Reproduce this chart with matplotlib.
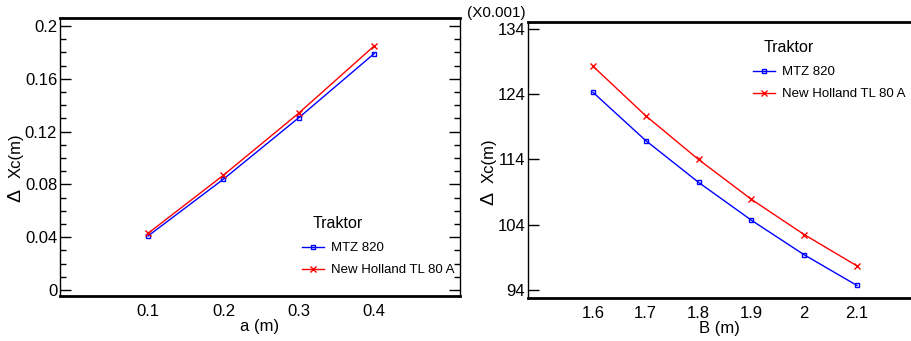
import matplotlib
matplotlib.use("Agg")
import matplotlib.pyplot as plt
from matplotlib.ticker import AutoMinorLocator

plt.rcParams['font.family'] = ['Liberation Sans', 'DejaVu Sans']

# left chart: displacement vs a
a_vals = [0.1, 0.2, 0.3, 0.4]
mtz_a = [0.041, 0.084, 0.1305, 0.179]
nh_a = [0.043, 0.087, 0.134, 0.1848]

# right chart: displacement vs B (x 0.001)
b_vals = [1.6, 1.7, 1.8, 1.9, 2.0, 2.1]
mtz_b = [124.3, 116.9, 110.5, 104.7, 99.4, 94.7]
nh_b = [128.3, 120.7, 114.0, 107.9, 102.5, 97.7]

series_names = ['MTZ 820', 'New Holland TL 80 A']
legend_title = 'Traktor'

W, H = 911, 341
fig = plt.figure(figsize=(W / 100, H / 100), dpi=100)


def px_axes(x0, y0, x1, y1):
    return fig.add_axes([x0 / W, 1 - y1 / H, (x1 - x0) / W, (y1 - y0) / H])


def px(x, y):
    return x / W, 1 - y / H


def style(ax):
    for s in ['top', 'bottom']:
        ax.spines[s].set_linewidth(2)
    for s in ['left', 'right']:
        ax.spines[s].set_linewidth(1)
    ax.tick_params(axis='x', length=0, labelsize=12, pad=6)
    ax.tick_params(axis='y', direction='in', length=8, width=1, labelsize=12, pad=2)
    ax.tick_params(axis='y', which='minor', direction='in', length=4, width=1)


def add_legend(ax, x_handle, y_title):
    # title drawn as text, indented like the original
    fig.text(*px(x_handle + 11, y_title), legend_title, fontsize=11.5,
             ha='left', va='center')
    leg = ax.legend(series_names, loc='upper left', frameon=False,
                    bbox_to_anchor=px(x_handle, y_title + 18),
                    bbox_transform=fig.transFigure,
                    fontsize=9.5, handlelength=1.7, handletextpad=0.5,
                    labelspacing=0.75, borderpad=0, borderaxespad=0)
    return leg


# left panel
ax1 = px_axes(60, 18, 460, 296)
ax1.plot(a_vals, mtz_a, color='blue', marker='s', markersize=3, mfc='none', lw=1)
ax1.plot(a_vals, nh_a, color='red', marker='x', markersize=4, lw=1)
ax1.set_xlim(-0.017, 0.514)
ax1.set_ylim(-0.0045, 0.206)
ax1.set_xticks(a_vals)
ax1.set_xticklabels(['0.1', '0.2', '0.3', '0.4'])
ax1.set_yticks([0, 0.04, 0.08, 0.12, 0.16, 0.2])
ax1.set_yticklabels(['0', '0.04', '0.08', '0.12', '0.16', '0.2'])
ax1.yaxis.set_minor_locator(AutoMinorLocator(4))
style(ax1)
ax1.tick_params(axis='y', which='both', right=True)
ax1.set_xlabel('a (m)', fontsize=12, labelpad=0)
add_legend(ax1, 302, 224)
fig.text(*px(16, 156), 'Xc(m)', rotation=90, fontsize=12, ha='center', va='center')
fig.text(*px(16, 195), '\u0394', rotation=90, fontsize=14, ha='center', va='center')

# right panel
ax2 = px_axes(528, 22, 911, 298)
ax2.plot(b_vals, mtz_b, color='blue', marker='s', markersize=3, mfc='none', lw=1)
ax2.plot(b_vals, nh_b, color='red', marker='x', markersize=4, lw=1)
ax2.set_xlim(1.477, 2.2025)
ax2.set_ylim(92.77, 135.07)
ax2.set_xticks(b_vals)
ax2.set_xticklabels(['1.6', '1.7', '1.8', '1.9', '2', '2.1'])
ax2.set_yticks([94, 104, 114, 124, 134])
style(ax2)
ax2.spines['right'].set_visible(False)
ax2.set_xlabel('B (m)', fontsize=12, labelpad=0)
add_legend(ax2, 753, 48)
fig.text(*px(489, 161), 'Xc(m)', rotation=90, fontsize=12, ha='center', va='center')
fig.text(*px(489, 198), '\u0394', rotation=90, fontsize=14, ha='center', va='center')
fig.text(*px(467, 13), '(X0.001)', fontsize=11, ha='left', va='center')

fig.savefig('out.png', dpi=100)
